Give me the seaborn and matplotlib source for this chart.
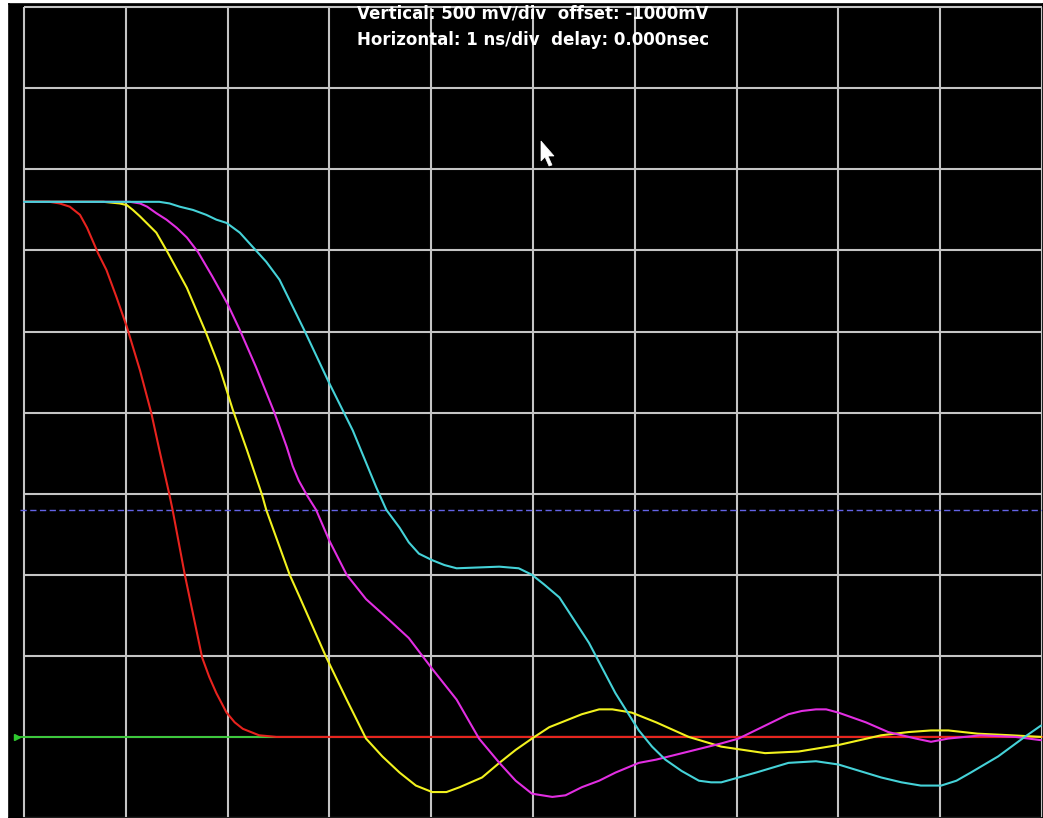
import numpy as np
import pandas as pd
import matplotlib
matplotlib.use('Agg')
import matplotlib.pyplot as plt
from matplotlib.patches import Polygon
import seaborn as sns

# ── Trace data (time in ns, level in V) ──
red_t = [0, 0.25, 0.35, 0.45, 0.55, 0.62, 0.73, 0.81, 0.91, 1.01, 1.14, 1.25, 1.33,
         1.43, 1.46, 1.58, 1.66, 1.75, 1.82, 1.89, 1.99, 2.07, 2.15, 2.31, 2.48, 10.0]
red_v = [3.30, 3.30, 3.29, 3.27, 3.22, 3.14, 2.98, 2.88, 2.71, 2.53, 2.26, 2.00, 1.77,
         1.49, 1.40, 1.00, 0.76, 0.49, 0.37, 0.27, 0.15, 0.09, 0.05, 0.01, 0.0, 0.0]

yellow_t = [0, 0.78, 0.94, 1.01, 1.07, 1.14, 1.22, 1.30, 1.41, 1.60, 1.79, 1.92, 2.05,
            2.19, 2.34, 2.38, 2.61, 2.71, 2.97, 3.17, 3.36, 3.52, 3.69, 3.85, 4.01,
            4.15, 4.28, 4.50, 4.67, 4.83, 4.99, 5.16, 5.32, 5.48, 5.65, 5.78, 5.97,
            6.21, 6.53, 6.85, 7.28, 7.61, 8.00, 8.42, 8.69, 8.91, 9.08, 9.37, 9.70, 9.99]
yellow_v = [3.30, 3.30, 3.29, 3.28, 3.25, 3.21, 3.16, 3.11, 2.99, 2.77, 2.49, 2.28, 2.02,
            1.77, 1.49, 1.40, 1.00, 0.86, 0.49, 0.23, -0.01, -0.12, -0.22, -0.30, -0.34,
            -0.34, -0.31, -0.25, -0.16, -0.08, -0.01, 0.06, 0.10, 0.14, 0.17, 0.17, 0.15,
            0.09, 0.0, -0.06, -0.10, -0.09, -0.05, 0.01, 0.03, 0.04, 0.04, 0.02, 0.01, 0.0]

magenta_t = [0, 1.04, 1.14, 1.21, 1.30, 1.40, 1.50, 1.60, 1.71, 1.85, 2.00, 2.12, 2.28,
             2.46, 2.58, 2.64, 2.70, 2.78, 2.87, 3.00, 3.17, 3.36, 3.59, 3.78, 4.01, 4.25,
             4.47, 4.67, 4.83, 4.99, 5.09, 5.19, 5.32, 5.48, 5.65, 5.81, 6.04, 6.21,
             6.53, 6.85, 7.02, 7.51, 7.64, 7.78, 7.88, 8.00, 8.27, 8.49, 8.76, 8.91,
             9.08, 9.40, 9.74, 9.99]
magenta_v = [3.30, 3.30, 3.29, 3.27, 3.23, 3.19, 3.14, 3.08, 2.99, 2.84, 2.67, 2.51, 2.28,
             2.00, 1.79, 1.67, 1.58, 1.49, 1.40, 1.21, 1.00, 0.85, 0.72, 0.61, 0.42, 0.23,
             -0.01, -0.16, -0.27, -0.35, -0.36, -0.37, -0.36, -0.31, -0.27, -0.22, -0.16,
             -0.14, -0.09, -0.04, -0.01, 0.14, 0.16, 0.17, 0.17, 0.15, 0.09, 0.03, -0.01,
             -0.03, -0.01, 0.01, 0.0, -0.02]

cyan_t = [0, 1.33, 1.43, 1.53, 1.66, 1.79, 1.89, 1.99, 2.12, 2.25, 2.38, 2.51, 2.76,
          3.00, 3.23, 3.46, 3.56, 3.69, 3.78, 3.88, 4.01, 4.13, 4.25, 4.67, 4.86,
          4.99, 5.11, 5.26, 5.55, 5.81, 6.04, 6.17, 6.30, 6.46, 6.63, 6.75, 6.85,
          7.19, 7.51, 7.78, 8.00, 8.42, 8.62, 8.81, 9.01, 9.16, 9.30, 9.57, 9.83, 9.99]
cyan_v = [3.30, 3.30, 3.29, 3.27, 3.25, 3.22, 3.19, 3.17, 3.11, 3.02, 2.93, 2.82, 2.50,
          2.18, 1.89, 1.54, 1.40, 1.29, 1.20, 1.13, 1.09, 1.06, 1.04, 1.05, 1.04,
          1.00, 0.94, 0.86, 0.58, 0.27, 0.04, -0.06, -0.14, -0.21, -0.27, -0.28, -0.28,
          -0.22, -0.16, -0.15, -0.17, -0.25, -0.28, -0.30, -0.30, -0.27, -0.22, -0.12,
          0.0, 0.07]

threshold_v = 1.40     # dashed marker level
ground_v = 0.0         # channel reference (green)

header = ["Vertical: 500 mV/div  offset: -1000mV",
          "Horizontal: 1 ns/div  delay: 0.000nsec"]

# ── Long-form table for seaborn ──────────────────────────────
traces = {'red': (red_t, red_v), 'yellow': (yellow_t, yellow_v),
          'magenta': (magenta_t, magenta_v), 'cyan': (cyan_t, cyan_v)}
df = pd.concat([pd.DataFrame({'t': t, 'v': v, 'ch': name})
                for name, (t, v) in traces.items()], ignore_index=True)

palette = {'red': '#e8231e', 'yellow': '#f2f21e',
           'magenta': '#e22ee2', 'cyan': '#45d2d8'}

# ── Figure ───────────────────────────────────────────────────
sns.set_style('dark')
plt.rcParams['font.family'] = ['DejaVu Sans']

W, H = 1043, 818
fig = plt.figure(figsize=(W / 100, H / 100), dpi=100, facecolor='white')
ax = fig.add_axes([9 / W, 0, 1034 / W, 814 / H])
ax.set_facecolor('black')

ax.set_xlim(-0.147, 10.01)
ax.set_ylim(-0.5, 4.52)
ax.set_xticks([])
ax.set_yticks([])
ax.grid(False)
for s in ax.spines.values():
    s.set_color('black')
    s.set_linewidth(1.2)

# graticule: 10 x 10 divisions, only inside the screen area
xdiv = np.arange(0, 11, 1)
ydiv = np.arange(-0.5, 4.6, 0.5)
ax.vlines(xdiv, -0.5, 4.5, color='#c4c4c4', linewidth=1.5, zorder=1)
ax.hlines(ydiv, 0, 10, color='#c4c4c4', linewidth=1.5, zorder=1)

# reference / threshold lines
ax.axhline(ground_v, xmin=0.01, color='#2fc82f', linewidth=1.3, zorder=2)
ax.plot([-0.07], [ground_v], marker='>', color='#2fc82f', markersize=5, zorder=3,
        clip_on=False)
ax.axhline(threshold_v, xmin=0.011, color='#6464e6', linewidth=1.0,
           dashes=(4.5, 2.5), zorder=2)

sns.lineplot(data=df, x='t', y='v', hue='ch', palette=palette, sort=False,
             estimator=None, linewidth=1.5, legend=False, ax=ax, zorder=4)
ax.set_xlabel('')
ax.set_ylabel('')

fig.text(533 / W, 1 - 14 / H, header[0], color='white', fontsize=12,
         fontweight='bold', ha='center', va='center')
fig.text(533 / W, 1 - 40 / H, header[1], color='white', fontsize=12,
         fontweight='bold', ha='center', va='center')

# mouse pointer left on the screen
ptr = np.array([(541, 141), (541, 161), (545, 157), (549, 166), (552, 165),
                (548, 156), (554, 156)], dtype=float)
ptr[:, 0] /= W
ptr[:, 1] = 1 - ptr[:, 1] / H
fig.patches.append(Polygon(ptr, closed=True, facecolor='white', edgecolor='white',
                           linewidth=0.5, transform=fig.transFigure, figure=fig))

fig.savefig('out.png', dpi=100, facecolor='white')
